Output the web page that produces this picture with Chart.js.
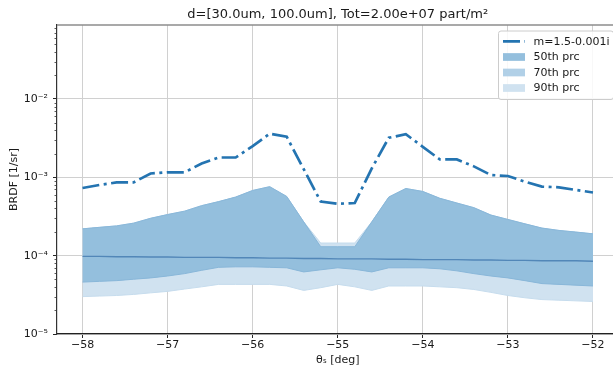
<!DOCTYPE html>
<html><head><meta charset="utf-8">
<script src="https://cdn.jsdelivr.net/npm/chart.js@4.4.1/dist/chart.umd.min.js"></script>
<style>html,body{margin:0;padding:0;overflow:hidden;background:#fff;width:613px;height:370px}</style>
</head><body>
<canvas id="c" width="625" height="370" style="display:block;width:625px;height:370px"></canvas>
<script>
// ---- data ----
const thetaDeg = [-58.0,-57.8,-57.6,-57.4,-57.2,-57.0,-56.8,-56.6,-56.4,-56.2,-56.0,-55.8,-55.6,-55.4,-55.2,-55.0,-54.8,-54.6,-54.4,-54.2,-54.0,-53.8,-53.6,-53.4,-53.2,-53.0,-52.8,-52.6,-52.4,-52.2,-52.0];
const brdfLine = [7.3e-4,8.0e-4,8.6e-4,8.6e-4,1.12e-3,1.16e-3,1.16e-3,1.5e-3,1.79e-3,1.79e-3,2.5e-3,3.6e-3,3.3e-3,1.27e-3,4.9e-4,4.6e-4,4.7e-4,1.3e-3,3.2e-3,3.55e-3,2.45e-3,1.69e-3,1.69e-3,1.38e-3,1.07e-3,1.04e-3,8.8e-4,7.6e-4,7.46e-4,6.9e-4,6.4e-4];
const brdfMedian = [9.8e-5,9.8e-5,9.7e-5,9.7e-5,9.6e-5,9.6e-5,9.5e-5,9.5e-5,9.5e-5,9.4e-5,9.4e-5,9.3e-5,9.3e-5,9.2e-5,9.2e-5,9.1e-5,9.1e-5,9.1e-5,9.0e-5,9.0e-5,8.9e-5,8.9e-5,8.9e-5,8.8e-5,8.8e-5,8.7e-5,8.7e-5,8.6e-5,8.6e-5,8.6e-5,8.5e-5];
const p50Upper = [2.2e-4,2.3e-4,2.4e-4,2.6e-4,3.0e-4,3.35e-4,3.7e-4,4.35e-4,4.9e-4,5.6e-4,6.8e-4,7.6e-4,5.7e-4,2.7e-4,1.3e-4,1.3e-4,1.3e-4,2.7e-4,5.6e-4,7.2e-4,6.6e-4,5.4e-4,4.7e-4,4.1e-4,3.3e-4,2.9e-4,2.55e-4,2.25e-4,2.1e-4,2.0e-4,1.9e-4];
const p50Lower = [4.6e-5,4.7e-5,4.8e-5,5.0e-5,5.2e-5,5.5e-5,5.9e-5,6.5e-5,7.1e-5,7.2e-5,7.2e-5,7.1e-5,7.0e-5,6.2e-5,6.6e-5,7.0e-5,6.7e-5,6.2e-5,7.0e-5,7.0e-5,7.0e-5,6.8e-5,6.4e-5,5.9e-5,5.5e-5,5.2e-5,4.8e-5,4.4e-5,4.3e-5,4.2e-5,4.1e-5];
const p70Upper = [2.2e-4,2.3e-4,2.4e-4,2.6e-4,3.0e-4,3.35e-4,3.7e-4,4.35e-4,4.9e-4,5.6e-4,6.8e-4,7.6e-4,5.7e-4,2.7e-4,1.3e-4,1.3e-4,1.3e-4,2.7e-4,5.6e-4,7.2e-4,6.6e-4,5.4e-4,4.7e-4,4.1e-4,3.3e-4,2.9e-4,2.55e-4,2.25e-4,2.1e-4,2.0e-4,1.9e-4];
const p70Lower = [4.6e-5,4.7e-5,4.8e-5,5.0e-5,5.2e-5,5.5e-5,5.9e-5,6.5e-5,7.1e-5,7.2e-5,7.2e-5,7.1e-5,7.0e-5,6.2e-5,6.6e-5,7.0e-5,6.7e-5,6.2e-5,7.0e-5,7.0e-5,7.0e-5,6.8e-5,6.4e-5,5.9e-5,5.5e-5,5.2e-5,4.8e-5,4.4e-5,4.3e-5,4.2e-5,4.1e-5];
const p90Upper = [2.2e-4,2.3e-4,2.4e-4,2.6e-4,3.0e-4,3.35e-4,3.7e-4,4.35e-4,4.9e-4,5.6e-4,6.8e-4,7.6e-4,5.7e-4,2.7e-4,1.45e-4,1.45e-4,1.45e-4,2.7e-4,5.6e-4,7.2e-4,6.6e-4,5.4e-4,4.7e-4,4.1e-4,3.3e-4,2.9e-4,2.55e-4,2.25e-4,2.1e-4,2.0e-4,1.9e-4];
const p90Lower = [3.0e-5,3.05e-5,3.1e-5,3.2e-5,3.35e-5,3.5e-5,3.75e-5,4.0e-5,4.3e-5,4.3e-5,4.3e-5,4.3e-5,4.1e-5,3.6e-5,3.9e-5,4.3e-5,4.0e-5,3.6e-5,4.1e-5,4.1e-5,4.1e-5,4.0e-5,3.9e-5,3.7e-5,3.4e-5,3.1e-5,2.9e-5,2.75e-5,2.7e-5,2.65e-5,2.6e-5];
const xTickValues = [-58,-57,-56,-55,-54,-53,-52];
const yTickValues = [1e-5,1e-4,1e-3,1e-2];
const yTickLabels = ['10\u207B\u2075','10\u207B\u2074','10\u207B\u00B3','10\u207B\u00B2'];
const titleText = 'd=[30.0um, 100.0um], Tot=2.00e+07 part/m\u00B2';
const xLabel = '\u03B8\u209B [deg]';
const yLabel = 'BRDF [1/sr]';
const legendLabels = ['m=1.5-0.001i','50th prc','70th prc','90th prc'];

const pts = arr => thetaDeg.map((x, i) => ({x: x, y: arr[i]}));
const FONT = 'DejaVu Sans';
const TXT = '#1a1a1a';

const datasets = [
  {label: legendLabels[0], data: pts(brdfLine), borderColor: '#2474b1', borderWidth: 2.7, borderDash: [17, 4.5, 3, 4.5], pointRadius: 0, fill: false, order: 0, legendKind: 'line'},
  {label: 'median', data: pts(brdfMedian), borderColor: 'rgba(70,125,178,0.85)', borderWidth: 1.4, pointRadius: 0, fill: false, order: 1},
  {label: legendLabels[1], data: pts(p50Upper), borderColor: '#89b7d9', borderWidth: 1, backgroundColor: '#94bfdd', pointRadius: 0, fill: 3, order: 2, legendKind: 'patch', legendColor: '#94bfdd'},
  {label: 'p50 lower', data: pts(p50Lower), borderColor: '#89b7d9', borderWidth: 1, pointRadius: 0, fill: false, order: 1.9},
  {label: legendLabels[2], data: pts(p70Upper), borderColor: '#b1d0e7', borderWidth: 0, backgroundColor: '#b1d0e7', pointRadius: 0, fill: 5, order: 3, legendKind: 'patch', legendColor: '#b1d0e7'},
  {label: 'p70 lower', data: pts(p70Lower), borderColor: '#b1d0e7', borderWidth: 0, pointRadius: 0, fill: false, order: 2.9},
  {label: legendLabels[3], data: pts(p90Upper), borderColor: '#c6dced', borderWidth: 1, backgroundColor: '#d0e2f0', pointRadius: 0, fill: 7, order: 4, legendKind: 'patch', legendColor: '#d0e2f0'},
  {label: 'p90 lower', data: pts(p90Lower), borderColor: '#c6dced', borderWidth: 1, pointRadius: 0, fill: false, order: 3.9}
];

const decor = {
  id: 'decor',
  afterDraw(chart) {
    const {ctx, chartArea: a, scales: {y}} = chart;
    ctx.save();
    // top spine
    ctx.strokeStyle = '#8c8c8c'; ctx.lineWidth = 1.6;
    ctx.beginPath(); ctx.moveTo(a.left, a.top); ctx.lineTo(a.right, a.top); ctx.stroke();
    // minor log ticks
    ctx.strokeStyle = '#333'; ctx.lineWidth = 0.8;
    for (let d = -5; d <= -2; d++) {
      for (let m = 2; m <= 9; m++) {
        const v = m * Math.pow(10, d);
        if (v > y.max) continue;
        const py = Math.round(y.getPixelForValue(v)) + 0.5;
        ctx.beginPath(); ctx.moveTo(a.left - 2.5, py); ctx.lineTo(a.left, py); ctx.stroke();
      }
    }
    // title
    ctx.fillStyle = TXT; ctx.font = '13px "' + FONT + '"';
    ctx.textAlign = 'center'; ctx.textBaseline = 'alphabetic';
    ctx.fillText(titleText, (a.left + a.right) / 2, 18);
    // legend
    const bxR = a.right - 5.5, bx = 498, by = 30.5, bh = 68.5;
    ctx.fillStyle = 'rgba(255,255,255,0.85)'; ctx.strokeStyle = '#cccccc'; ctx.lineWidth = 1;
    ctx.beginPath();
    if (ctx.roundRect) ctx.roundRect(bx + 0.5, by + 0.5, bxR - bx, bh, 2.5); else ctx.rect(bx + 0.5, by + 0.5, bxR - bx, bh);
    ctx.fill(); ctx.stroke();
    const rows = [41.4, 57, 72.5, 88];
    const items = chart.data.datasets.filter(d => d.legendKind);
    items.forEach((d, i) => {
      const ry = rows[i];
      if (d.legendKind === 'line') {
        ctx.save();
        ctx.strokeStyle = d.borderColor; ctx.lineWidth = d.borderWidth; ctx.setLineDash(d.borderDash);
        ctx.beginPath(); ctx.moveTo(503, ry); ctx.lineTo(525, ry); ctx.stroke();
        ctx.restore();
      } else {
        ctx.fillStyle = d.legendColor;
        ctx.fillRect(503, ry - 3.85, 22, 7.7);
      }
      ctx.fillStyle = TXT; ctx.font = '11px "' + FONT + '"';
      ctx.textAlign = 'left'; ctx.textBaseline = 'middle';
      ctx.fillText(d.label, 533.5, ry + 0.5);
    });
    ctx.restore();
  }
};

new Chart(document.getElementById('c'), {
  type: 'line',
  data: {datasets: datasets},
  plugins: [decor],
  options: {
    responsive: false,
    animation: false,
    devicePixelRatio: 1,
    layout: {padding: {left: 0, top: 25, right: 6.5, bottom: 0}},
    plugins: {legend: {display: false}, title: {display: false}, tooltip: {enabled: false}},
    elements: {line: {tension: 0}},
    scales: {
      x: {
        type: 'linear', min: -58.3, max: -51.7,
        afterBuildTicks: s => { s.ticks = xTickValues.map(v => ({value: v})); },
        afterFit: s => { s.height = 36; },
        ticks: {callback: v => (v < 0 ? '\u2212' : '') + Math.abs(v), color: TXT, font: {family: FONT, size: 11}, padding: 1, maxRotation: 0, autoSkip: false},
        grid: {color: '#d0d0d0', lineWidth: 1, tickLength: 4, tickColor: '#262626', tickWidth: 1},
        border: {color: '#222', width: 1.2},
        title: {display: true, text: xLabel, color: TXT, font: {family: FONT, size: 11}, padding: {top: 0, bottom: 3.4}}
      },
      y: {
        type: 'logarithmic', min: 1e-5, max: 0.088,
        afterBuildTicks: s => { s.ticks = yTickValues.map(v => ({value: v})); },
        afterFit: s => { s.width = 57; },
        ticks: {callback: (v, i) => yTickLabels[i], color: TXT, font: {family: FONT, size: 11}, padding: 5, autoSkip: false},
        grid: {color: '#d0d0d0', lineWidth: 1, tickLength: 4, tickColor: '#262626', tickWidth: 1},
        border: {color: '#333', width: 1.2},
        title: {display: true, text: yLabel, color: TXT, font: {family: FONT, size: 11}, padding: {top: 7.4, bottom: 0}}
      }
    }
  }
});
</script>
</body></html>
